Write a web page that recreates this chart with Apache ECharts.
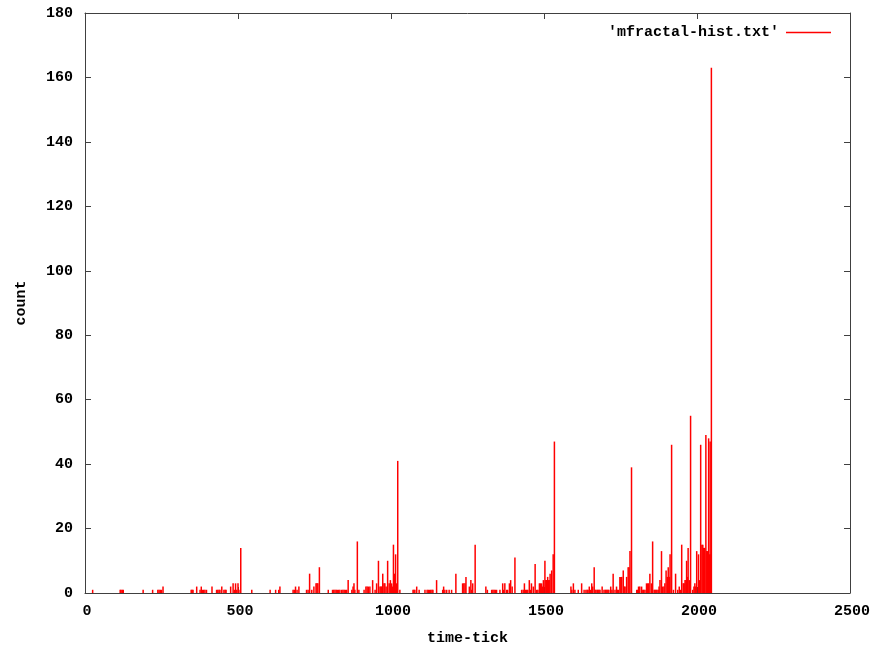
<!DOCTYPE html>
<html>
<head>
<meta charset="utf-8">
<script src="https://cdn.jsdelivr.net/npm/echarts@6/dist/echarts.min.js"></script>
<style>
html,body{margin:0;padding:0;background:#fff;}
#chart{width:876px;height:647px;}
</style>
</head>
<body>
<div id="chart"></div>
<script>
// time-tick positions
var ticks = [25,115,118,122,125,190,221,238,242,246,250,255,
347,350,353,365,376,380,384,388,392,397,415,430,434,438,441,447,454,458,461,476,484,488,492,496,500,503,509,
545,605,623,633,637,680,684,688,693,699,724,729,734,741,748,755,758,761,766,
795,809,813,817,821,825,829,833,839,843,847,851,855,860,872,876,879,882,890,895,912,918,922,926,931,940,948,953,959,964,967,970,973,977,980,984,989,994,998,1002,1005,1008,1011,1015,1018,1022,1029,
1072,1075,1078,1084,1092,1111,1118,1122,1126,1130,1134,1137,1149,1169,1172,1176,1182,1190,1198,1212,1234,1238,1242,1245,1256,1261,1264,1267,1275,1310,1315,1329,1333,1337,1341,1345,1356,1365,1368,1372,1378,1381,1387,1391,1396,1405,1427,1432,1436,1440,1443,1447,1452,1456,1459,1465,1471,1476,1480,1485,1488,1492,1495,1498,1503,1506,1509,1512,1514,1517,1520,1525,1530,1534,
1588,1591,1596,1601,1612,1623,1631,1637,1641,1644,1648,1652,1656,1659,1664,1667,1670,1674,1677,1680,1683,1690,1696,1700,1703,1706,1709,1712,1718,1722,1726,1732,1737,1740,1743,1748,1751,1754,1759,1762,1765,1770,1775,1778,1781,1786,
1803,1806,1809,1813,1819,1823,1826,1830,1835,1839,1842,1846,1851,1855,1860,1863,1866,1869,1873,1876,1879,1884,1888,1892,1895,1899,1903,1906,1910,1912,1917,1923,1930,1937,1942,1946,1950,1955,1958,1961,1964,1966,1969,1971,1975,1979,1986,1990,1993,1996,1999,2005,2008,2012,2016,2019,2022,2025,2029,2032,2034,2038,2040,2043,2045,2047];
// counts at those ticks
var counts = [1,1,1,1,1,1,1,1,1,1,1,2,
1,1,1,2,1,2,1,1,1,1,2,1,1,1,1,2,1,1,1,2,3,1,3,1,3,1,14,
1,1,1,1,2,1,1,2,1,2,1,1,6,1,2,3,3,3,8,
1,1,1,1,1,1,1,1,1,1,1,1,1,4,1,2,3,1,16,1,1,2,2,2,2,4,1,3,10,2,2,2,6,3,3,2,10,3,4,3,2,15,6,12,3,41,1,
1,1,1,2,1,1,1,1,1,1,1,1,4,1,2,1,1,1,1,6,3,3,3,5,2,4,1,3,15,2,1,1,1,1,1,1,1,3,1,3,1,1,3,4,2,11,1,1,3,1,1,1,4,1,3,2,9,1,1,3,3,3,2,4,10,4,4,5,4,4,6,7,12,47,
2,1,3,1,1,3,1,1,1,1,2,1,3,2,8,1,1,1,1,1,1,2,1,1,1,1,1,1,2,1,6,1,2,1,1,5,5,5,7,2,2,5,8,8,13,39,
1,1,2,2,2,1,1,1,3,3,3,6,3,16,1,1,1,1,1,2,4,13,2,2,3,7,5,8,5,12,46,1,6,1,2,1,15,3,3,4,4,10,5,14,4,55,1,2,3,2,13,12,4,46,15,15,14,14,49,13,13,48,12,47,12,163];
var xTickLabels = ['0','500','1000','1500','2000','2500'];
var yTickLabels = ['0','20','40','60','80','100','120','140','160','180'];
var seriesName = "'mfractal-hist.txt'";

var data = ticks.map(function(t,i){return [t, counts[i]];});
var FONT = 'Liberation Mono';
var axisColor = '#404040';
var chart = echarts.init(document.getElementById('chart'), null, {renderer:'canvas'});
var labelStyle = {fontFamily:FONT, fontWeight:'bold', fontSize:15, color:'#000'};
chart.setOption({
  animation:false,
  backgroundColor:'#fff',
  grid:{left:85, right:26, top:13, bottom:54, containLabel:false, outerBoundsMode:'none'},
  legend:{
    data:[{name:seriesName, icon:'rect'}],
    right:40, top:20, align:'right', itemWidth:45, itemHeight:1.5, itemGap:10,
    textStyle:{fontFamily:FONT, fontWeight:'bold', fontSize:15, color:'#000', padding:[0,2,0,0]}
  },
  xAxis:[{
    type:'value', min:0, max:2500, interval:500,
    name:'time-tick', nameLocation:'middle', nameGap:38,
    nameTextStyle:{fontFamily:FONT, fontWeight:'bold', fontSize:15, color:'#000'},
    axisLine:{show:true, onZero:false, lineStyle:{color:axisColor, width:1}},
    axisTick:{show:true, inside:true, length:6, lineStyle:{color:axisColor}},
    axisLabel:Object.assign({margin:11, padding:[0,0,0,4], formatter:function(v){return xTickLabels[Math.round(v/500)];}}, labelStyle),
    splitLine:{show:false}
  },{
    type:'value', position:'top', min:0, max:2500, interval:500,
    axisLine:{show:true, onZero:false, lineStyle:{color:axisColor, width:1}},
    axisTick:{show:true, inside:true, length:6, lineStyle:{color:axisColor}},
    axisLabel:{show:false}, splitLine:{show:false}
  }],
  yAxis:[{
    type:'value', min:0, max:180, interval:20,
    name:'count', nameLocation:'middle', nameGap:56, nameRotate:90,
    nameTextStyle:{fontFamily:FONT, fontWeight:'bold', fontSize:15, color:'#000'},
    axisLine:{show:true, onZero:false, lineStyle:{color:axisColor, width:1}},
    axisTick:{show:true, inside:true, length:6, lineStyle:{color:axisColor}},
    axisLabel:Object.assign({margin:12, formatter:function(v){return yTickLabels[Math.round(v/20)];}}, labelStyle),
    splitLine:{show:false}
  },{
    type:'value', position:'right', min:0, max:180, interval:20,
    axisLine:{show:true, onZero:false, lineStyle:{color:axisColor, width:1}},
    axisTick:{show:true, inside:true, length:6, lineStyle:{color:axisColor}},
    axisLabel:{show:false}, splitLine:{show:false}
  }],
  series:[{
    name:seriesName,
    type:'custom',
    xAxisIndex:0, yAxisIndex:0,
    itemStyle:{color:'#ff0000'},
    data:data,
    renderItem:function(params, api){
      var p0 = api.coord([api.value(0), 0]);
      var p1 = api.coord([api.value(0), api.value(1)]);
      return {type:'line', shape:{x1:p0[0], y1:p0[1], x2:p1[0], y2:p1[1]},
              style:{stroke:'#ff0000', lineWidth:1.5}};
    }
  }]
});
</script>
</body>
</html>
